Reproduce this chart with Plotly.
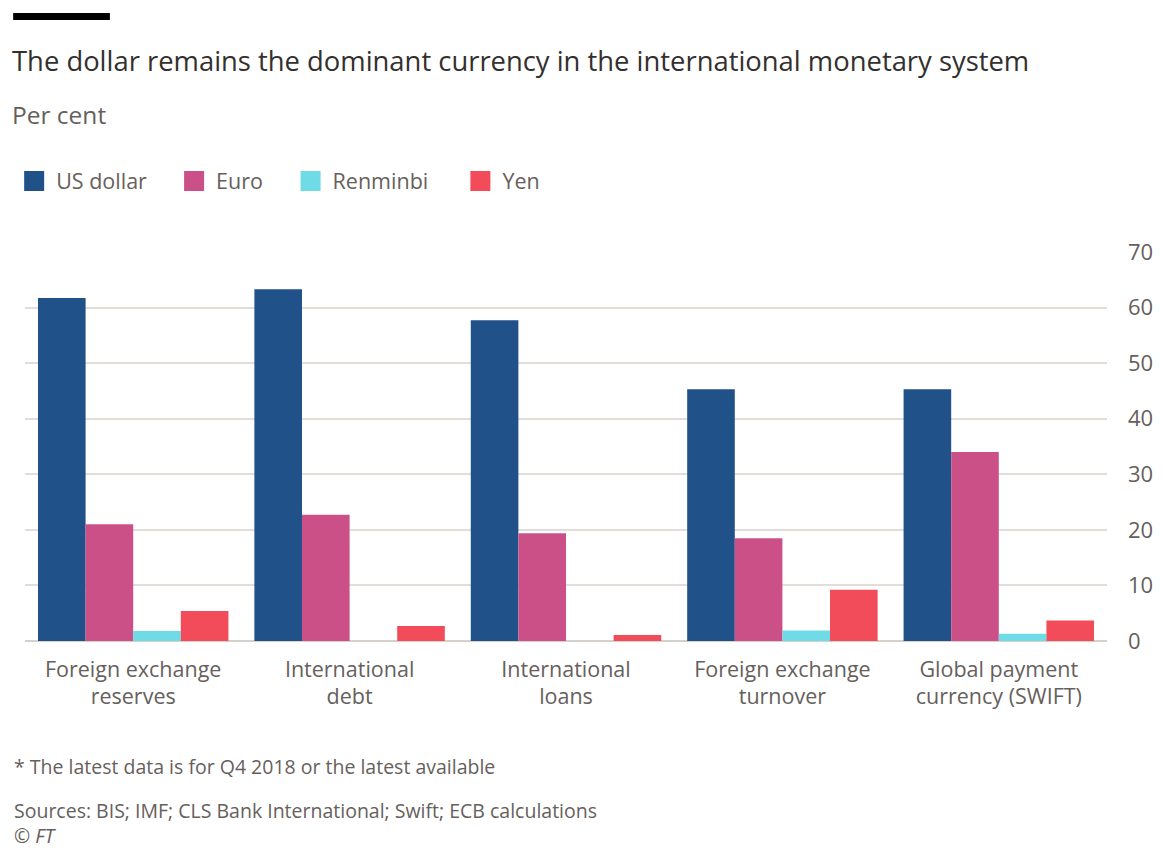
import plotly.graph_objects as go

categories = ["Foreign exchange<br>reserves", "International<br>debt", "International<br>loans",
              "Foreign exchange<br>turnover", "Global payment<br>currency (SWIFT)"]
usd = [61.7, 63.3, 57.7, 45.3, 45.3]
eur = [21.0, 22.7, 19.4, 18.5, 34.0]
rmb = [1.8, 0, 0, 1.9, 1.3]
yen = [5.4, 2.7, 1.1, 9.2, 3.7]
series_names = ["US dollar", "Euro", "Renminbi", "Yen"]
colors = ["#215189", "#cc5088", "#6fdbe6", "#f24b5a"]

FONT = "Open Sans"
TEXT = "#66605c"

# pixel geometry helpers
L, R, T, B = 22, 1118, 252, 641
W, H = R - L, B - T
def px(x): return (x - L) / W
def py(y): return (B - y) / H

legend_ids = ["legend", "legend2", "legend3", "legend4"]
legend_px = [9, 171, 289, 461]

fig = go.Figure()
for name, vals, col, lg in zip(series_names, [usd, eur, rmb, yen], colors, legend_ids):
    fig.add_trace(go.Bar(x=categories, y=vals, name=name, marker_color=col,
                         marker_line_width=0, legendgroup=name, showlegend=False))
    # legend entry (larger square symbol)
    fig.add_trace(go.Scatter(x=[None], y=[None], mode="markers", name=name,
                             legendgroup=name, legend=lg, showlegend=True,
                             marker=dict(symbol="square", size=16, color=col,
                                         line=dict(color=col, width=4))))

legend_common = dict(orientation="h", xanchor="left", yanchor="middle",
                     font=dict(size=21.5, color=TEXT), itemwidth=34,
                     bgcolor="rgba(0,0,0,0)", borderwidth=0, itemsizing="trace")
layout_legends = {lg: dict(x=px(xp), y=py(181), **legend_common)
                  for lg, xp in zip(legend_ids, legend_px)}

fig.update_layout(
    width=1165, height=851,
    margin=dict(l=L, r=1165 - R, t=T, b=851 - B, pad=0),
    paper_bgcolor="white", plot_bgcolor="white",
    barmode="group", bargap=0.12, bargroupgap=0,
    font=dict(family=FONT, color=TEXT, size=20),
    showlegend=True,
    xaxis=dict(showgrid=False, tickfont=dict(size=21.5, color=TEXT), ticks="",
               showline=False, ticklabelstandoff=13),
    yaxis=dict(side="right", range=[0, 70], dtick=10, showgrid=True, gridcolor="#e2ddd8",
               gridwidth=1.5, zeroline=True, zerolinecolor="#d6d0ca", zerolinewidth=1.5,
               tickfont=dict(size=22, color=TEXT), ticks="", ticklabelstandoff=20,
               showline=False),
    **layout_legends,
)

annotations = [
    dict(text="The dollar remains the dominant currency in the international monetary system",
         x=px(7), y=py(60), yanchor="middle", font=dict(size=27.4, color="#33302e")),
    dict(text="Per cent", x=px(7), y=py(115), yanchor="middle",
         font=dict(size=24.5, color=TEXT)),
    dict(text="* The latest data is for Q4 2018 or the latest available",
         x=px(9), y=py(766), yanchor="middle", font=dict(size=19.5, color=TEXT)),
    dict(text="Sources: BIS; IMF; CLS Bank International; Swift; ECB calculations<br>© <i>FT</i>",
         x=px(9), y=py(851), yanchor="bottom", align="left",
         font=dict(size=19.5, color=TEXT)),
]
for a in annotations:
    fig.add_annotation(xref="paper", yref="paper", xanchor="left",
                       showarrow=False, **a)

fig.add_shape(type="rect", xref="paper", yref="paper", x0=px(10), x1=px(108),
              y0=py(13), y1=py(20), fillcolor="black", line_width=0)

fig.write_html("out.html")
